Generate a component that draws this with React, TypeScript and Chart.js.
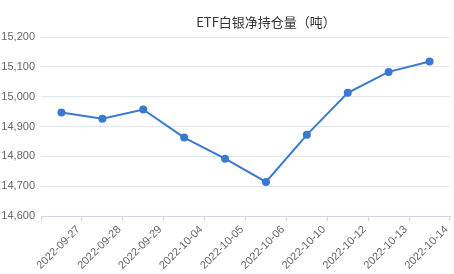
import React, { useEffect, useRef } from "react";
import { Chart, registerables } from "chart.js";

Chart.register(...registerables);

const categories = [
  "2022-09-27", "2022-09-28", "2022-09-29", "2022-10-04", "2022-10-05",
  "2022-10-06", "2022-10-10", "2022-10-12", "2022-10-13", "2022-10-14",
];
const holdings = [14947, 14926, 14957, 14863, 14792, 14714, 14872, 15013, 15083, 15118];
const yTicks = [14600, 14700, 14800, 14900, 15000, 15100, 15200];
const titleText = "ETF白银净持仓量（吨）";

const titlePlugin = {
  id: "customTitle",
  afterDraw(chart: any) {
    const ctx = chart.ctx;
    ctx.save();
    ctx.font = '13px "Noto Sans CJK SC", "Noto Sans", sans-serif';
    ctx.fillStyle = "#333333";
    ctx.textAlign = "center";
    ctx.textBaseline = "middle";
    ctx.fillText(titleText, 266, 22);
    ctx.restore();
  },
};

export default function App() {
  const ref = useRef<HTMLCanvasElement>(null);
  useEffect(() => {
    document.body.style.margin = "0";
    const chart = new Chart(ref.current!, {
      type: "line",
      data: {
        labels: categories,
        datasets: [
          {
            data: holdings,
            borderColor: "#3a78d2",
            backgroundColor: "#3a78d2",
            borderWidth: 2,
            pointRadius: 4,
            pointBackgroundColor: "#3a78d2",
            pointBorderWidth: 0,
            tension: 0,
          },
        ],
      },
      options: {
        animation: false,
        responsive: false,
        layout: { padding: { top: 37, right: 4, left: 0, bottom: 0 } },
        plugins: { legend: { display: false }, title: { display: false }, tooltip: { enabled: false } },
        scales: {
          x: {
            offset: true,
            grid: { offset: true, drawOnChartArea: false, drawTicks: true, tickLength: 5, color: "#ccd6eb" },
            border: { display: true, color: "#ccd6eb" },
            ticks: {
              maxRotation: 45,
              minRotation: 45,
              autoSkip: false,
              labelOffset: 17,
              padding: 2,
              color: "#666666",
              font: { size: 11, family: '"Liberation Sans", Arial, sans-serif' },
            },
            afterFit(scale: any) {
              scale.height = 58;
            },
          },
          y: {
            min: 14600,
            max: 15200,
            afterBuildTicks(scale: any) {
              scale.ticks = yTicks.map((v) => ({ value: v }));
            },
            grid: { color: "#e0e6f1", drawTicks: false },
            border: { display: false },
            ticks: {
              padding: 6,
              color: "#666666",
              font: { size: 11, family: '"Liberation Sans", Arial, sans-serif' },
              callback: (v: any) => Number(v).toLocaleString("en-US"),
            },
            afterFit(scale: any) {
              scale.width = 41;
            },
          },
        },
      },
      plugins: [titlePlugin],
    });
    return () => chart.destroy();
  }, []);
  return <canvas ref={ref} width={454} height={274} style={{ display: "block" }} />;
}
